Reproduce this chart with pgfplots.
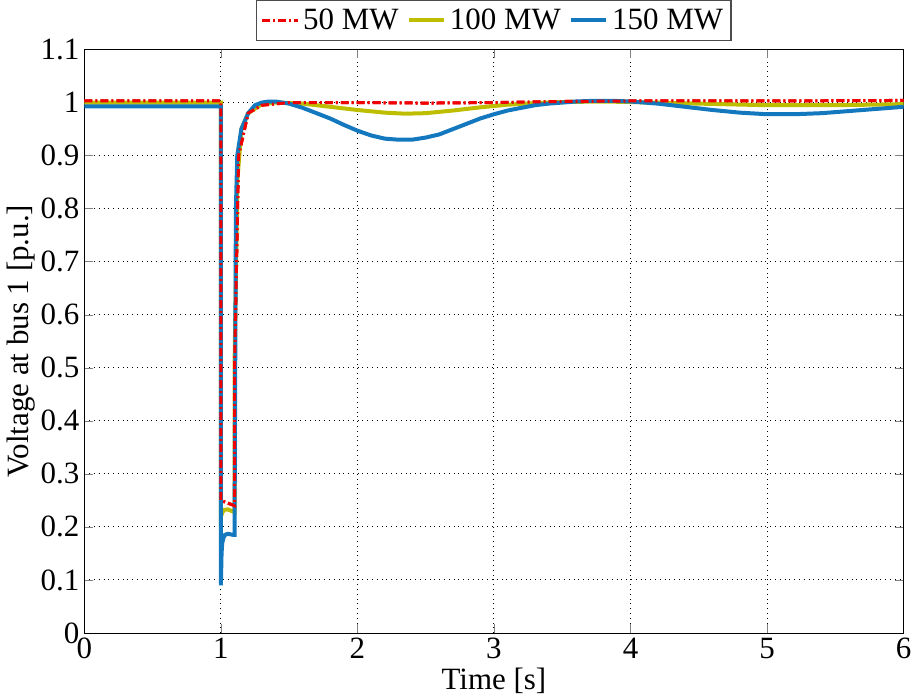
\documentclass[border=0pt]{standalone}
\usepackage{pgfplots}
\pgfplotsset{compat=1.18}
\usepackage{fontspec}
\setmainfont{Liberation Serif}
\definecolor{cred}{RGB}{240,0,0}
\definecolor{cyel}{RGB}{190,190,0}
\definecolor{cblue}{RGB}{20,120,190}
\begin{document}
\begin{tikzpicture}
\begin{axis}[
  scale only axis,
  width=410pt, height=292pt,
  xmin=0, xmax=6, ymin=0, ymax=1.1,
  xtick={0,1,2,3,4,5,6},
  ytick={0,0.1,0.2,0.3,0.4,0.5,0.6,0.7,0.8,0.9,1,1.1},
  yticklabel style={/pgf/number format/fixed},
  /pgf/number format/assume math mode=true,
  font=\fontsize{15.5}{18}\selectfont,
  tick label style={font=\fontsize{15.5}{18}\selectfont},
  yticklabel style={xshift=1pt},
  xticklabel style={yshift=1pt},
  grid=major,
  major grid style={black, dotted, line width=0.5pt},
  tick align=inside,
  xlabel={Time [s]},
  ylabel={Voltage at bus 1 [p.u.]},
  xlabel style={inner sep=0pt, yshift=-1pt},
  ylabel style={yshift=-4pt},
  axis line style={black, line width=0.5pt},
  legend columns=3,
  legend style={at={(0.5,1.015)}, anchor=south, draw=black!70, line width=0.6pt,
    font=\fontsize{15.5}{18}\selectfont, inner sep=2pt,
    /tikz/every even column/.append style={column sep=2pt}},
  legend cell align=left,
  legend image code/.code={\draw[#1] (0cm,0cm) -- (0.62cm,0cm);},
]
\addplot[cred, line width=1.5pt, dash pattern=on 4pt off 1.5pt on 1pt off 1.5pt] coordinates {
(0,1.003)(1.0,1.003)(1.0,0.25)(1.05,0.245)(1.1,0.24)(1.1,0.5)(1.13,0.9)(1.2,0.98)(1.3,0.995)(1.5,1.0)(2.0,1.0)(2.5,0.999)(3.0,1.0)(3.5,1.002)(4,1.003)(5,1.003)(6,1.004)};
\addlegendentry{50 MW}
\addplot[cyel, line width=2pt] coordinates {
(0,1.0)(1.0,1.0)(1.0,0.22)(1.02,0.232)(1.05,0.233)(1.08,0.23)(1.1,0.228)(1.1,0.5)(1.12,0.85)(1.15,0.95)(1.2,0.98)(1.3,0.997)(1.4,1.0)(1.6,0.998)(1.8,0.992)(2.0,0.986)(2.2,0.981)(2.35,0.979)(2.5,0.98)(2.7,0.985)(2.9,0.991)(3.1,0.996)(3.3,0.999)(3.5,1.001)(3.8,1.002)(4.0,1.001)(4.5,0.998)(5.0,0.995)(5.5,0.995)(6.0,0.997)};
\addlegendentry{100 MW}
\addplot[cblue, line width=2pt] coordinates {
(0,0.993)(1.0,0.993)(1.0,0.09)(1.005,0.15)(1.01,0.17)(1.02,0.18)(1.03,0.185)(1.05,0.187)(1.07,0.186)(1.09,0.185)(1.1,0.185)
(1.105,0.5)(1.11,0.8)(1.12,0.9)(1.15,0.95)(1.2,0.98)(1.25,0.995)(1.3,1.0)(1.35,1.002)(1.4,1.002)(1.5,0.998)(1.6,0.99)(1.7,0.98)(1.8,0.97)(1.9,0.958)(2.0,0.947)(2.1,0.938)(2.2,0.932)(2.3,0.93)(2.4,0.93)(2.5,0.934)(2.6,0.94)(2.7,0.95)(2.8,0.96)(2.9,0.97)(3.0,0.978)(3.1,0.985)(3.2,0.99)(3.3,0.995)(3.4,0.998)(3.5,1.0)(3.6,1.002)(3.7,1.003)(3.8,1.003)(3.9,1.003)(4.0,1.002)(4.2,0.998)(4.4,0.992)(4.6,0.986)(4.8,0.981)(5.0,0.978)(5.2,0.978)(5.4,0.98)(5.6,0.984)(5.8,0.988)(6.0,0.992)};
\addlegendentry{150 MW}
\addplot[cred, line width=1.5pt, dash pattern=on 4pt off 1.5pt on 1pt off 1.5pt, forget plot] coordinates {
(0,1.003)(1.0,1.003)(1.0,0.25)(1.05,0.245)(1.1,0.24)(1.1,0.5)(1.13,0.9)(1.2,0.98)(1.3,0.995)(1.5,1.0)(2.0,1.0)(2.5,0.999)(3.0,1.0)(3.5,1.002)(4,1.003)(5,1.003)(6,1.004)};
\end{axis}
\end{tikzpicture}
\end{document}
